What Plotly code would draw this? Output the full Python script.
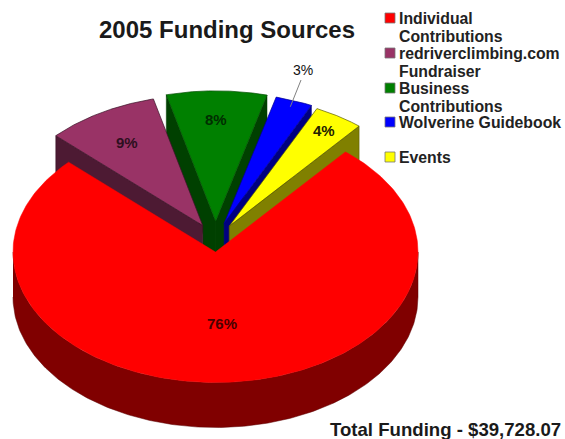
import numpy as np
import plotly.graph_objects as go

# --- data ---
categories = ["Individual Contributions", "redriverclimbing.com Fundraiser",
              "Business Contributions", "Wolverine Guidebook", "Events"]
legend_lines = [["Individual", "Contributions"], ["redriverclimbing.com", "Fundraiser"],
                ["Business", "Contributions"], ["Wolverine Guidebook"], ["Events"]]
values = [76, 9, 8, 3, 4]
title = "2005 Funding Sources"
total_label = "Total Funding - $39,728.07"

# --- style ---
top_colors = ["#ff0000", "#993366", "#008000", "#0000ff", "#ffff00"]
side_colors = ["#800000", "#4d1a33", "#004000", "#000080", "#808000"]
edge_colors = ["#b00000", "#3a1226", "#004d00", "#000090", "#5a5a00"]
label_colors = ["#4a0000", "#2e0f20", "#002e00", "#111111", "#222200"]
exploded = [0, 1, 1, 1, 1]
label_radius = [0.55, 0.74, 0.78, None, 0.87]
FONT = "Liberation Sans, Arial, sans-serif"

CX, CY, RX, RY, DEPTH = 215.5, 252.0, 202.5, 130.5, 45.0
EXPLODE_X, EXPLODE_Y = 0.125, 0.235
START_ANGLE = 136.5  # degrees; the first slice ends here, the others run clockwise from it

total = sum(values)
spans = [v / total * 360 for v in values]
bounds = {}
a = START_ANGLE
for i in range(1, len(values)):
    bounds[i] = (a, a - spans[i])
    a -= spans[i]
# first slice runs clockwise from the end of the last one round to START_ANGLE
bounds[0] = (a, START_ANGLE - 360)


def pt(t, ox, oy, f=1.0):
    r = np.radians(t)
    return ox + f * RX * np.cos(r), oy - f * RY * np.sin(r)


def origin(i):
    a0, a1 = bounds[i]
    m = np.radians((a0 + a1) / 2)
    e = exploded[i]
    return CX + e * EXPLODE_X * RX * np.cos(m), CY - e * EXPLODE_Y * RY * np.sin(m)


def add_poly(fig, xs, ys, fill, line=None, width=0.0):
    fig.add_trace(go.Scatter(x=xs, y=ys, mode="lines", fill="toself", fillcolor=fill,
                             line=dict(color=line or fill, width=width),
                             hoverinfo="skip", showlegend=False))


def top_face(i):
    a0, a1 = bounds[i]
    ox, oy = origin(i)
    ts = np.linspace(a0, a1, 240)
    ax, ay = pt(ts, ox, oy)
    return [ox, *ax, ox], [oy, *ay, oy]


def wall(i, t):
    ox, oy = origin(i)
    ex, ey = pt(t, ox, oy)
    return [ox, ex, ex, ox, ox], [oy, ey, ey + DEPTH, oy + DEPTH, oy]


fig = go.Figure()

# dark column behind the slice tips, between the purple and green tips
px_, _ = origin(1)
gx_, gy_ = origin(2)
add_poly(fig, [px_, gx_, gx_, px_, px_], [gy_, gy_, gy_ + DEPTH, gy_ + DEPTH, gy_],
         side_colors[2], side_colors[2], 0.5)

# exploded slices, back to front: green, purple, blue, yellow
for i in [2, 1, 3, 4]:
    a0, a1 = bounds[i]
    if i == 1:
        wx, wy = wall(i, a0)
        add_poly(fig, wx, wy, side_colors[i], edge_colors[i], 0.6)
    elif i == 2:
        for t in (a0, a1):
            wx, wy = wall(i, t)
            add_poly(fig, wx, wy, side_colors[i], side_colors[i], 0.5)
    else:
        wx, wy = wall(i, a1)
        add_poly(fig, wx, wy, side_colors[i], edge_colors[i], 0.6)
    fx, fy = top_face(i)
    add_poly(fig, fx, fy, top_colors[i], edge_colors[i], 0.7)

# main slice: rim then top
ts = np.linspace(180, 360, 240)
ax, ay = pt(ts, CX, CY)
add_poly(fig, [*ax, *ax[::-1]], [*ay, *(ay[::-1] + DEPTH)], side_colors[0], "#5a0000", 0.5)
fx, fy = top_face(0)
add_poly(fig, fx, fy, top_colors[0], top_colors[0], 0.5)

# percent labels
ann = []
for i, v in enumerate(values):
    if label_radius[i] is None:
        continue
    a0, a1 = bounds[i]
    ox, oy = origin(i)
    lx, ly = pt((a0 + a1) / 2, ox, oy, label_radius[i])
    ann.append(dict(x=lx, y=ly, text=f"{v}%", showarrow=False,
                    font=dict(family=FONT, size=15, color=label_colors[i], weight="bold")))

# outside label with its leader line for the small slice
ann.append(dict(x=303, y=70, text=f"{values[3]}%", showarrow=False,
                font=dict(family=FONT, size=14, color=label_colors[3])))
ox3, oy3 = origin(3)
mx, my = pt(sum(bounds[3]) / 2, ox3, oy3, 0.95)
fig.add_trace(go.Scatter(x=[301, mx], y=[80, my], mode="lines",
                         line=dict(color="#808080", width=1),
                         hoverinfo="skip", showlegend=False))

# legend
rows = [18, 53, 88, 122, 157]
for i, y in enumerate(rows):
    fig.add_trace(go.Scatter(x=[390], y=[y], mode="markers",
                             marker=dict(symbol="square", size=10, color=top_colors[i],
                                         line=dict(color="#777777", width=0.8)),
                             hoverinfo="skip", showlegend=False, name=categories[i]))
    for j, line in enumerate(legend_lines[i]):
        ann.append(dict(x=397, y=y + j * 18, text=line, showarrow=False, xanchor="left",
                        font=dict(family=FONT, size=15.8, color="#222222", weight="bold")))

ann.append(dict(x=97, y=29.5, text=title, showarrow=False, xanchor="left",
                font=dict(family=FONT, size=24, color="#1a1a1a", weight="bold")))
ann.append(dict(x=328, y=429, text=total_label, showarrow=False, xanchor="left",
                font=dict(family=FONT, size=18.6, color="#1a1a1a", weight="bold")))

fig.update_layout(width=565, height=439, margin=dict(l=0, r=0, t=0, b=0),
                  paper_bgcolor="white", plot_bgcolor="white", annotations=ann,
                  xaxis=dict(range=[0, 565], visible=False, fixedrange=True),
                  yaxis=dict(range=[439, 0], visible=False, fixedrange=True),
                  showlegend=False)
fig.write_html("out.html", config=dict(displayModeBar=False),
               post_script="document.body.style.margin='0';document.body.style.overflow='hidden';")
